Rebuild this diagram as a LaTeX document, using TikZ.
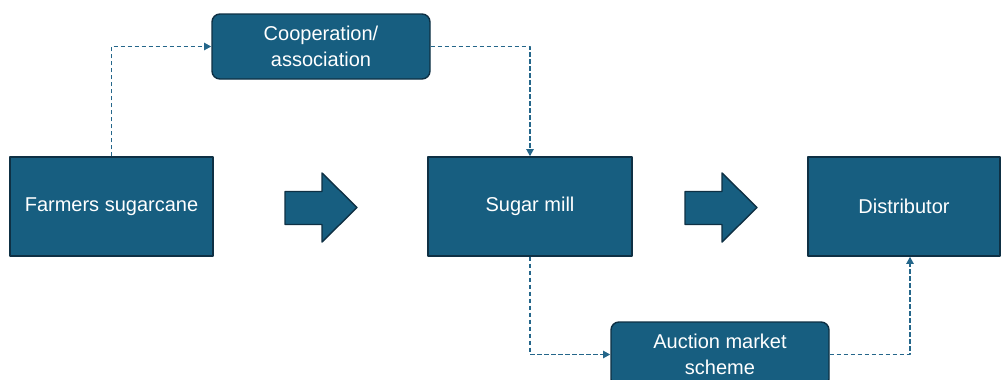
\documentclass[tikz,border=0pt]{standalone}
\usepackage{fontspec}
\setmainfont{Liberation Sans}
\usetikzlibrary{arrows.meta,positioning}
\definecolor{boxfill}{RGB}{23,94,128}
\definecolor{boxline}{RGB}{14,48,68}
\definecolor{link}{RGB}{36,102,138}
\tikzset{
  every picture/.style={line join=round,
    >={Triangle[length=3.6pt,width=3.6pt]}},
  every node/.style={font=\fontsize{10}{13}\selectfont},
  % Kästen
  block/.style={draw=boxline, fill=boxfill, text=white, line width=0.7pt,
    inner sep=0pt, align=center, minimum height=49.5pt},
  side/.style={block, rounded corners=4pt, minimum width=109pt, minimum height=32.5pt},
  % gestrichelte Verbindungen
  flow/.style={link, line width=0.95pt, dash pattern=on 2.3pt off 1.2pt, ->},
  % Blockpfeile
  bigarrow/.style={draw=boxline, fill=boxfill, line width=0.7pt},
}

\begin{document}
\begin{tikzpicture}[x=0.5pt, y=-0.5pt]
  \useasboundingbox (0,0) rectangle (1001,380);
  % Hauptkette
  \node[block, minimum width=101.5pt] (farmers) at (111.5,206.5) {Farmers sugarcane};
  \node[block, minimum width=102pt] (mill) at (530,206.5) {Sugar mill};
  \node[block, minimum width=96pt] (dist) at (904,206.5) {Distributor};
  % Nebenwege
  \node[side] (coop) at (321,46.5) {Cooperation/\\association};
  \node[side] (auction) at (720,354.5) {Auction market\\scheme};
  % Blockpfeile zwischen den Kästen
  \foreach \dx in {0,400}
    \draw[bigarrow, xshift=\dx*0.5pt] (285,191.5) -- (322,191.5) -- (322,173) -- (357,207.5)
      -- (322,242) -- (322,224.5) -- (285,224.5) -- cycle;
  \draw[flow] (farmers.north) |- (coop.west);
  \draw[flow] (coop.east) -| (mill.north);
  \draw[flow] (mill.south) |- (auction.west);
  \draw[flow] (auction.east) -| ([xshift=3pt]dist.south);
\end{tikzpicture}
\end{document}
